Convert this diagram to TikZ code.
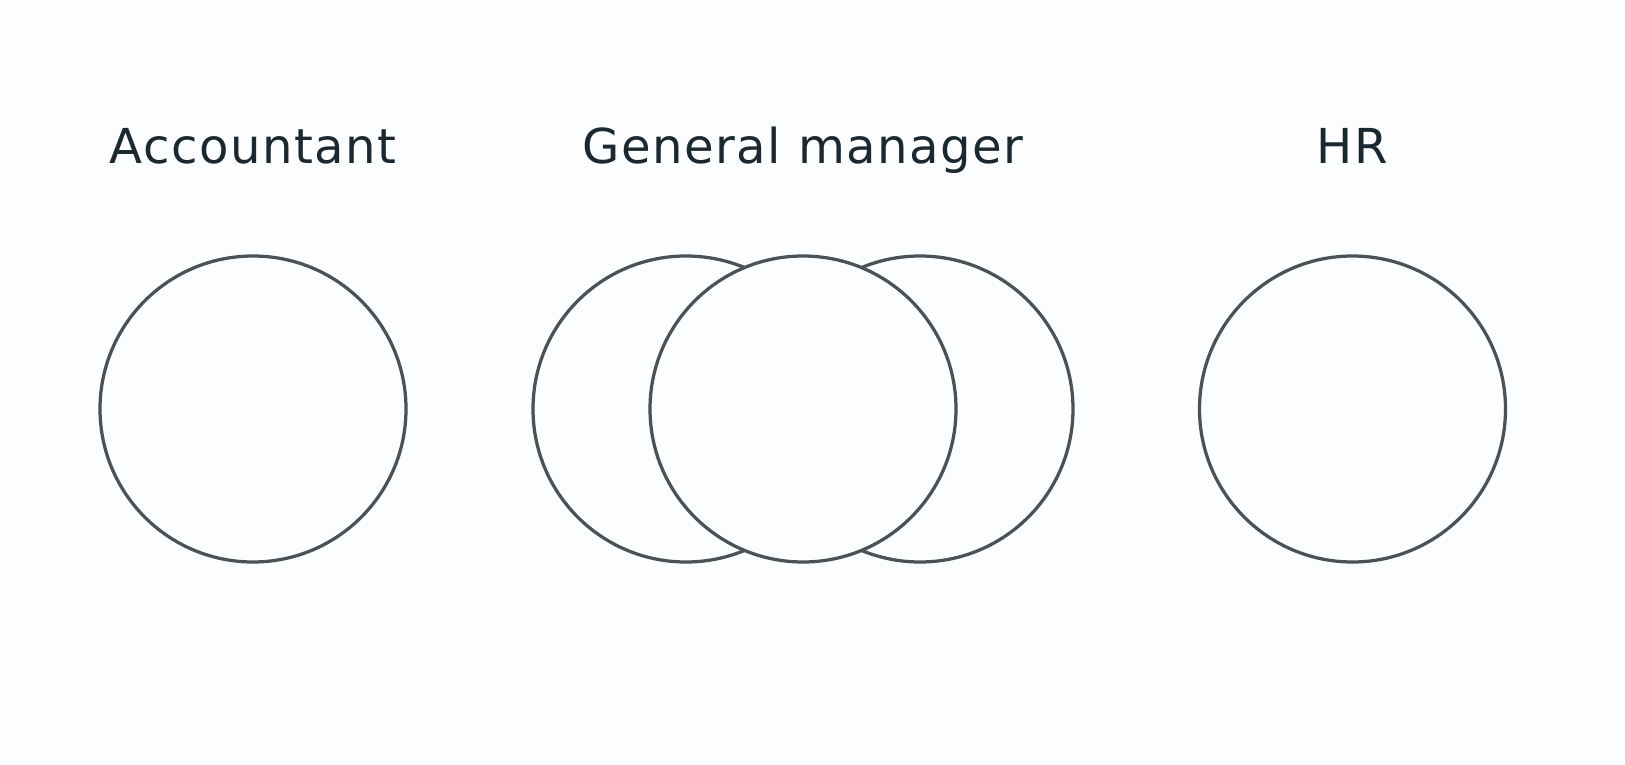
\documentclass[tikz,border=0pt]{standalone}
\usepackage{fontspec}
\setmainfont[LetterSpace=3]{DejaVu Sans}
\definecolor{pageBg}{RGB}{252, 253, 254}
\definecolor{ringGray}{RGB}{74, 82, 88}
\definecolor{textDark}{RGB}{28, 40, 48}
\usetikzlibrary{positioning}

\begin{document}
\begin{tikzpicture}
    \tikzset{
        ring/.style={circle, draw=ringGray, fill=pageBg, line width=0.065cm, minimum size=6.12cm, inner sep=0pt},
        role/.style={font=\fontsize{27.4}{33}\selectfont, text=textDark, inner sep=0pt, anchor=base}
    }
    % page
    \fill[pageBg] (0,0) rectangle (32.5,-15.3);
    \useasboundingbox (0,0) rectangle (32.5,-15.3);

    % circles
    \node [ring] (acc) at (5.06,-8.18) {};
    \node [ring] (gmLeft) at (13.72,-8.18) {};
    \node [ring] (gmRight) at (18.4,-8.18) {};
    \node [ring] (gm) at (16.06,-8.18) {};
    \node [ring] (hr) at (27.05,-8.18) {};

    % titles
    \node [role, above=1.82cm of acc.north, anchor=base] (accTitle) {Accountant};
    \node [role, above=1.82cm of gm.north, anchor=base] (gmTitle) {General manager};
    \node [role, above=1.82cm of hr.north, anchor=base] (hrTitle) {HR};
\end{tikzpicture}
\end{document}
